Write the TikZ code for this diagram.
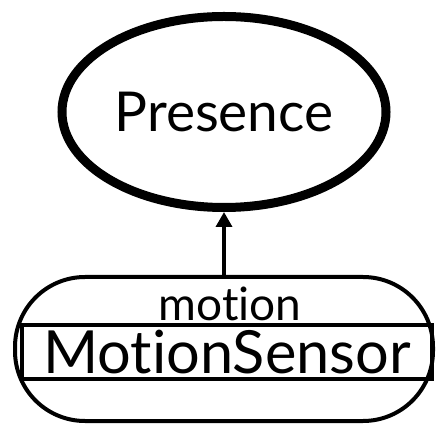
\documentclass[tikz,border=0pt]{standalone}
\usepackage{fontspec}
\setmainfont{Lato}[Ligatures=NoCommon]
\usetikzlibrary{shapes.geometric,arrows.meta,positioning}

\begin{document}
\begin{tikzpicture}[
    x=1pt, y=1pt,
    entity/.style={
        ellipse,
        draw,
        line width=9pt,
        inner sep=0pt,
        minimum width=324pt,
        minimum height=191pt,
        font=\fontsize{55}{55}\selectfont
    },
    sensorbox/.style={
        rectangle,
        draw,
        rounded corners=70pt,
        line width=4pt,
        minimum width=418pt,
        minimum height=144pt
    },
    band/.style={
        rectangle,
        draw,
        line width=4pt,
        inner sep=0pt,
        minimum width=410pt,
        minimum height=53.5pt,
        font=\fontsize{59.5}{59.5}\selectfont
    },
    arrow/.style={-{Triangle[length=15pt,width=16pt]}, line width=3.5pt}
]
    \useasboundingbox (0,0) rectangle (438,425);

    \node[entity] (presence) at (224,313) {Presence};
    \node[sensorbox] (sensor) at (224,76) {};
    \node[band] (cls) at (227,73.25) {MotionSensor};
    \node[font=\fontsize{46}{46}\selectfont, anchor=base, inner sep=1pt] (attr) at (230,104) {motion};

    \draw[arrow] (sensor.north) -- (presence.south);
\end{tikzpicture}
\end{document}
